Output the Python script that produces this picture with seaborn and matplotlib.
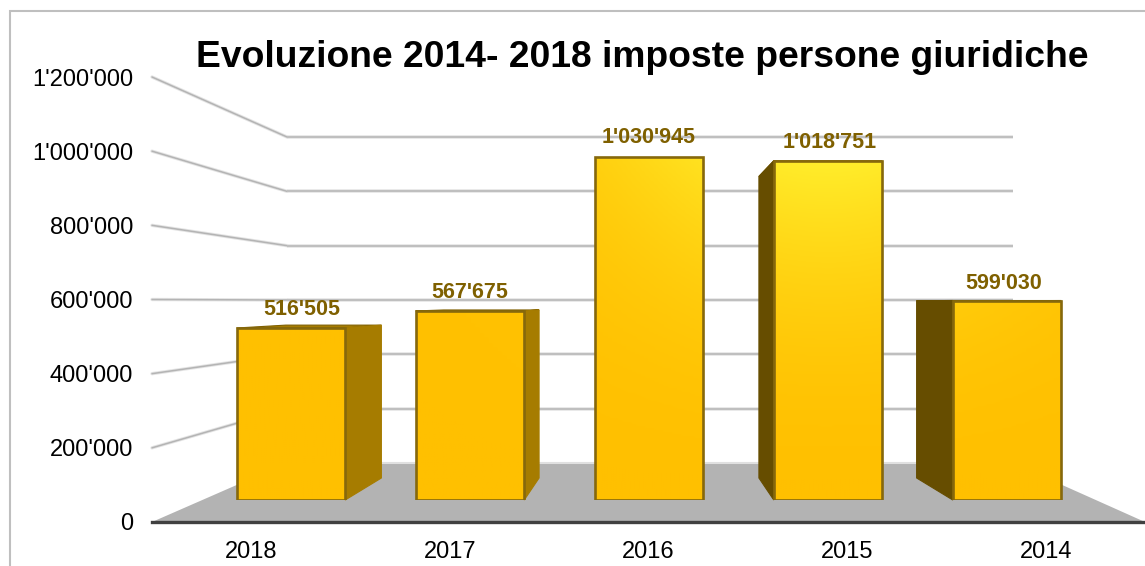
import numpy as np
import pandas as pd
import matplotlib
matplotlib.use('Agg')
import matplotlib.pyplot as plt
import seaborn as sns
from matplotlib.colors import LinearSegmentedColormap
from matplotlib.lines import Line2D
from matplotlib.patches import Polygon, Rectangle
from matplotlib.transforms import IdentityTransform

anni = ["2018", "2017", "2016", "2015", "2014"]
imposte = [516505, 567675, 1030945, 1018751, 599030]
y_ticks = [0, 200000, 400000, 600000, 800000, 1000000, 1200000]
titolo = "Evoluzione 2014- 2018 imposte persone giuridiche"

W, H = 1145, 566
Y_MAX = 1200000
sns.set_style("white")
plt.rcParams['font.family'] = ['Liberation Sans', 'DejaVu Sans']


def fmt(v):
    return f"{v:,}".replace(",", "'")


def piano(fig, x0, x1, y_top, y_bot, zorder):
    # assi posizionati in pixel, dall'alto come nell'immagine
    a = fig.add_axes([x0 / W, 1 - y_bot / H, (x1 - x0) / W, (y_bot - y_top) / H], zorder=zorder)
    a.set_xlim(-0.5, 4.5)
    a.set_ylim(0, Y_MAX)
    a.patch.set_visible(False)
    return a


fig = plt.figure(figsize=(W / 100, H / 100), dpi=100)
fig.add_artist(Rectangle((10 / W, -0.1), 1.2, 1 - 11 / H + 0.1, transform=fig.transFigure,
                         fill=False, edgecolor="#BFBFBF", linewidth=1.5))

# parete esterna (assi veri), parete di fondo, fronte e retro delle barre
ax = piano(fig, 152, 1145, 77, 522, 1)
fondo = piano(fig, 287, 1013, 137, 463, 2)
fronte = piano(fig, 201.5, 1096.5, 100.4, 500, 4)
retro = piano(fig, 254.75, 1043.25, 122.8, 478, 3)
retro.axis("off")

# assi
ax.set_xticks(range(len(anni)))
ax.set_xticklabels(anni, fontsize=17, color="black")
ax.set_yticks(y_ticks)
ax.set_yticklabels([fmt(v) for v in y_ticks], fontsize=17, color="black")
ax.tick_params(axis="both", length=0)
ax.tick_params(axis="y", pad=13.5)
ax.tick_params(axis="x", pad=13.5)
for s in ["top", "right", "left"]:
    ax.spines[s].set_visible(False)
ax.spines["bottom"].set_color("#404040")
ax.spines["bottom"].set_linewidth(2.4)
ax.set_title(titolo, fontsize=26.85, fontweight="bold", color="black", x=0.4935, y=1.0, pad=7.5)

# pavimento
pavimento = [ax.transData.transform((-0.5, 0)), ax.transData.transform((4.5, 0)),
             fondo.transData.transform((4.5, 0)), fondo.transData.transform((-0.5, 0))]
ax.add_patch(Polygon(pavimento, closed=True, transform=IdentityTransform(), facecolor="#B3B3B3",
                     edgecolor="none", clip_on=False, zorder=1))

# griglia di fondo e raccordi laterali
griglia = y_ticks[1:]
fondo.hlines(griglia, -0.5, 4.5, color="#E4E4E4", linewidth=2.6, clip_on=False)
fondo.hlines(griglia, -0.5, 4.5, color="#B8B8B8", linewidth=1.2, clip_on=False)
fondo.hlines([0], -0.5, 4.5, color="#E0E0E0", linewidth=1.5, clip_on=False)
fondo.axis("off")
for v in griglia:
    p0 = ax.transData.transform((-0.5, v))
    p1 = fondo.transData.transform((-0.5, v))
    for colore, lw in [("#E4E4E4", 2.4), ("#B4B4B4", 1.1)]:
        ax.add_line(Line2D([p0[0], p1[0]], [p0[1], p1[1]], transform=IdentityTransform(),
                           color=colore, linewidth=lw, clip_on=False, zorder=2))

# barre frontali
df = pd.DataFrame({"anno": anni, "imposte": imposte})
sns.barplot(data=df, x="anno", y="imposte", order=anni, color="#FFC000", width=0.606,
            edgecolor="#86680C", linewidth=1.9, ax=fronte, zorder=5)
fronte.set_xlim(-0.5, 4.5)
fronte.set_ylim(0, Y_MAX)

# sfumatura: piu chiara in alto, attorno alla quarta barra
cmap = LinearSegmentedColormap.from_list("oro", ["#FFC000", "#FFEE2C"])
gx, gy = np.meshgrid(np.linspace(-0.5, 4.5, 200), np.linspace(0, 1, 200))
sfum = np.clip((gy * Y_MAX / 1030000) ** 2, 0, 1) * np.exp(-((gx - 3) / 1.28) ** 2)
for patch in fronte.patches:
    im = fronte.imshow(sfum, extent=(-0.5, 4.5, 0, Y_MAX), origin="lower", cmap=cmap,
                       vmin=0, vmax=1, aspect="auto", zorder=4)
    im.set_clip_path(patch)
    patch.set_facecolor("none")
fronte.set_xlim(-0.5, 4.5)
fronte.set_ylim(0, Y_MAX)
fronte.axis("off")

# facce laterali e superiori delle barre
mezza = 0.606 / 2
for i, val in enumerate(imposte):
    if i == 2:
        continue
    lato = i + mezza if i < 2 else i - mezza
    colore = "#A67C00" if i < 2 else "#664D00"
    faccia = [fronte.transData.transform((lato, 0)), fronte.transData.transform((lato, val)),
              retro.transData.transform((lato, val)), retro.transData.transform((lato, 0))]
    sopra = [fronte.transData.transform((i - mezza, val)), fronte.transData.transform((i + mezza, val)),
             retro.transData.transform((i + mezza, val)), retro.transData.transform((i - mezza, val))]
    fronte.add_patch(Polygon(sopra, closed=True, transform=IdentityTransform(), facecolor=colore,
                             edgecolor="#7F6000", linewidth=0.8, clip_on=False, zorder=3))
    fronte.add_patch(Polygon(faccia, closed=True, transform=IdentityTransform(), facecolor=colore,
                             edgecolor=colore, linewidth=0.8, clip_on=False, zorder=3))

# etichette dei valori
spost_x = [11, 0, 0, 2, -3]
spost_y = [13.5, 13.5, 13.5, 13, 12.5]
for i, val in enumerate(imposte):
    fronte.annotate(fmt(val), (i, val), xytext=(spost_x[i] * 0.72, spost_y[i]), textcoords="offset points",
                    ha="center", va="center", fontsize=15.5, fontweight="bold", color="#7F6000",
                    annotation_clip=False, zorder=8)

plt.savefig("out.png", dpi=100)
plt.close()
